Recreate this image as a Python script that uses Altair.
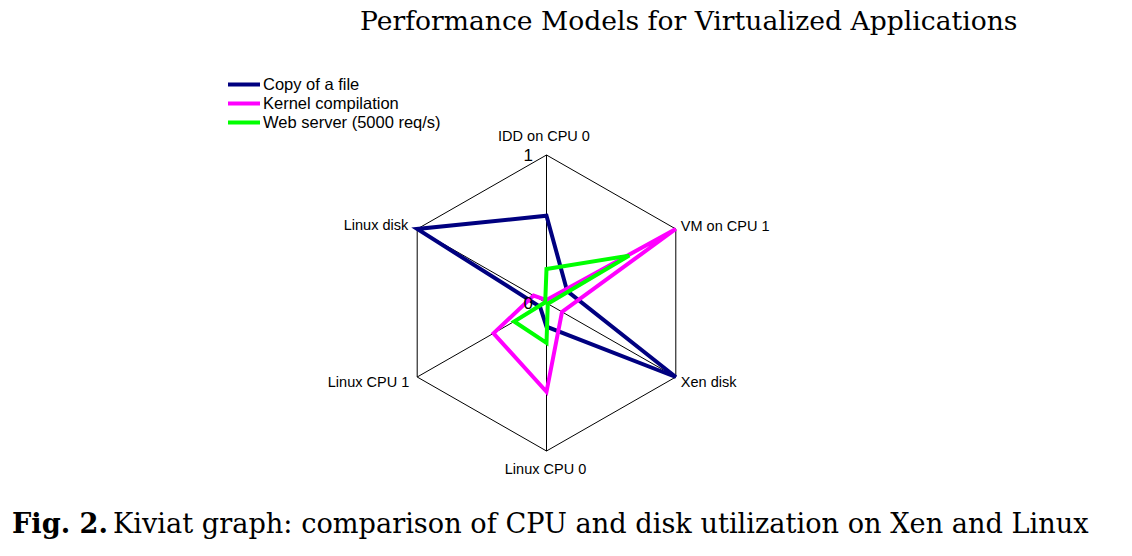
import altair as alt
import pandas as pd

# ---------------- data ----------------
AXES = ["IDD on CPU 0", "VM on CPU 1", "Xen disk", "Linux CPU 0", "Linux CPU 1", "Linux disk"]
SERIES = ["Copy of a file", "Kernel compilation", "Web server (5000 req/s)"]
COLORS = ["#000080", "#FF00FF", "#00FF00"]
COPY_FILE = [0.59, 0.16, 1.00, 0.16, 0.05, 1.00]
KERNEL = [0.02, 1.00, 0.12, 0.60, 0.41, 0.10]
WEB = [0.23, 0.64, 0.01, 0.27, 0.25, 0.01]
SCALE_TICKS = [0, 1]
TITLE = "Performance Models for Virtualized Applications"
CAPTION_BOLD = "Fig. 2."
CAPTION = "Kiviat graph: comparison of CPU and disk utilization on Xen and Linux"

# ---------------- tables ----------------
rows = []
for s, vals in zip(SERIES, [COPY_FILE, KERNEL, WEB]):
    for i, (a, v) in enumerate(zip(AXES, vals)):
        rows.append({"series": s, "axis": a, "idx": i, "value": v})
series_df = pd.DataFrame(rows)
axes_df = pd.DataFrame({"axis": AXES, "idx": list(range(len(AXES))), "value": [1.0] * len(AXES)})
ticks_df = pd.DataFrame({"tick": [str(t) for t in SCALE_TICKS], "value": SCALE_TICKS, "idx": [0, 0]})

W, H = 1132, 556
CX, CY = 546.5, 303.0
PX, PY = 149.3, 148.0
xdom = [-CX / PX, (W - CX) / PX]
ydom = [(CY - H) / PY, CY / PY]

XS = alt.Scale(domain=xdom, nice=False, zero=False)
YS = alt.Scale(domain=ydom, nice=False, zero=False)

def polar(ch):
    return ch.transform_calculate(
        x="datum.value * cos((90 - 60 * datum.idx) * PI / 180)",
        y="datum.value * sin((90 - 60 * datum.idx) * PI / 180)",
        zero="0",
    )

X = alt.X("x:Q", scale=XS, axis=None)
Y = alt.Y("y:Q", scale=YS, axis=None)

hexagon = polar(alt.Chart(axes_df)).mark_line(
    interpolate="linear-closed", color="black", strokeWidth=1
).encode(x=X, y=Y, order="idx:O")

spokes = polar(alt.Chart(axes_df)).mark_rule(color="black", strokeWidth=1).encode(
    x=X, y=Y, x2="zero:Q", y2="zero:Q"
)

lines = polar(alt.Chart(series_df)).mark_line(
    interpolate="linear-closed", strokeWidth=4, strokeJoin="miter"
).encode(
    x=X,
    y=Y,
    order="idx:O",
    detail="series:N",
    color=alt.Color(
        "series:N",
        scale=alt.Scale(domain=SERIES, range=COLORS),
        sort=SERIES,
        legend=alt.Legend(
            title=None,
            orient="none",
            legendX=226,
            legendY=75,
            symbolType="stroke",
            symbolSize=1024,
            symbolStrokeWidth=4,
            labelFont="Liberation Sans",
            labelFontSize=16.5,
            labelColor="black",
            labelOffset=1,
            labelLimit=400,
            clipHeight=19,
            rowPadding=0,
        ),
    ),
)

LABEL_POS = {
    "IDD on CPU 0": ("center", -2.5, -14),
    "VM on CPU 1": ("left", 5, 2),
    "Xen disk": ("left", 5, 10),
    "Linux CPU 0": ("center", -1, 23),
    "Linux CPU 1": ("right", -8, 10),
    "Linux disk": ("right", -9, 1),
}
label_layers = []
for a, (al, dx, dy) in LABEL_POS.items():
    label_layers.append(
        polar(alt.Chart(axes_df)).transform_filter(alt.datum.axis == a).mark_text(
            align=al, baseline="alphabetic", dx=dx, dy=dy,
            font="Liberation Sans", fontSize=14.5, color="black"
        ).encode(x=X, y=Y, text="axis:N")
    )

tick_labels = polar(alt.Chart(ticks_df)).mark_text(
    align="right", baseline="alphabetic", dx=-13.5, dy=6,
    font="Liberation Sans", fontSize=17, color="black"
).encode(x=X, y=Y, text="tick:N")

title = alt.Chart(pd.DataFrame({"t": [TITLE]})).mark_text(
    align="left", baseline="alphabetic", font="DejaVu Serif", fontSize=26.6, color="black"
).encode(x=alt.value(360), y=alt.value(30), text="t:N")

cap_b = alt.Chart(pd.DataFrame({"t": [CAPTION_BOLD]})).mark_text(
    align="left", baseline="alphabetic", font="DejaVu Serif", fontSize=27.2,
    fontWeight="bold", color="black"
).encode(x=alt.value(12), y=alt.value(533), text="t:N")

cap = alt.Chart(pd.DataFrame({"t": [CAPTION]})).mark_text(
    align="left", baseline="alphabetic", font="DejaVu Serif", fontSize=27.2, color="black"
).encode(x=alt.value(113), y=alt.value(533), text="t:N")

chart = alt.layer(
    hexagon, spokes, lines, *label_layers, tick_labels, title, cap_b, cap
).properties(
    width=W, height=H, autosize=alt.AutoSizeParams(type="none"), padding=0,
    background="white"
).configure_view(stroke=None)

chart.save("out.html", embed_options={"renderer": "svg", "actions": False})
